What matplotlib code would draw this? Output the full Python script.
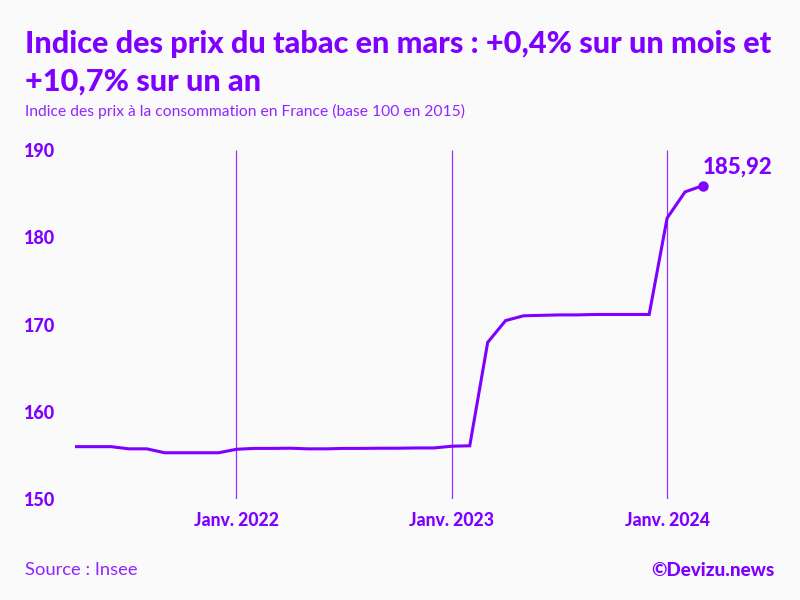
import pandas as pd
import matplotlib.pyplot as plt

# Monthly price index, April 2021 to March 2024
months = pd.date_range('2021-04-01', '2024-03-01', freq='MS')
index_values = [
    156.0, 156.0, 156.0, 155.75, 155.75, 155.3, 155.3, 155.3, 155.3,
    155.7, 155.8, 155.8, 155.82, 155.75, 155.75, 155.8, 155.8, 155.82, 155.82, 155.85, 155.85,
    156.05, 156.1, 167.95, 170.45, 171.0, 171.05, 171.1, 171.1, 171.15, 171.15, 171.15, 171.15,
    182.2, 185.2, 185.92,
]
year_marks = pd.to_datetime(['2022-01-01', '2023-01-01', '2024-01-01'])
year_labels = ['Janv. 2022', 'Janv. 2023', 'Janv. 2024']
y_ticks = [150, 160, 170, 180, 190]
last_label = '185,92'

PURPLE = '#7f00ff'
BG = '#fafafa'
W, H = 800, 600

plt.rcParams['font.family'] = ['Lato', 'DejaVu Sans']

fig = plt.figure(figsize=(8, 6), dpi=100, facecolor=BG)
ax = fig.add_axes([75 / W, 1 - 499 / H, (703 - 75) / W, 349 / H], facecolor=BG)

# months are evenly spaced on the original chart
x = range(len(months))
year_pos = months.get_indexer(year_marks)

ax.vlines(year_pos, 150, 190, color=PURPLE, lw=0.9, alpha=0.8, zorder=1)
ax.plot(x, index_values, color=PURPLE, lw=2.2, clip_on=False, zorder=2,
        solid_joinstyle='miter', solid_capstyle='butt')
ax.plot(x[-1], index_values[-1], 'o', color=PURPLE, ms=6.5, clip_on=False, zorder=3)
ax.annotate(last_label, (x[-1], index_values[-1]), xytext=(0, 6), textcoords='offset points',
            color=PURPLE, fontsize=16, fontweight='black', ha='left', va='bottom', annotation_clip=False)

ax.set_xlim(x[0], x[-1])
ax.set_ylim(150, 190)
ax.set_xticks(year_pos)
ax.set_xticklabels(year_labels, color=PURPLE, fontsize=12.7, fontweight='black')
ax.set_yticks(y_ticks)
ax.set_yticklabels(y_ticks, color=PURPLE, fontsize=13, fontweight='black')
ax.tick_params(axis='x', length=0, pad=9.5)
ax.tick_params(axis='y', length=0, pad=14)
for spine in ax.spines.values():
    spine.set_visible(False)

fig.text(25 / W, 1 - 44 / H, 'Indice des prix du tabac en mars : +0,4% sur un mois et', color=PURPLE,
         fontsize=22.1, fontweight='black', va='center')
fig.text(25 / W, 1 - 82 / H, '+10,7% sur un an', color=PURPLE, fontsize=22.1, fontweight='black', va='center')
fig.text(25 / W, 1 - 111 / H, 'Indice des prix à la consommation en France (base 100 en 2015)', color=PURPLE,
         fontsize=11.25, va='center', alpha=0.85)
fig.text(25 / W, 1 - 570 / H, 'Source : Insee', color=PURPLE, fontsize=13.2, va='center', alpha=0.85)
fig.text(775 / W, 1 - 570 / H, '©Devizu.news', color=PURPLE, fontsize=13.6, fontweight='black', va='center', ha='right')

fig.savefig('out.png', dpi=100, facecolor=BG)
